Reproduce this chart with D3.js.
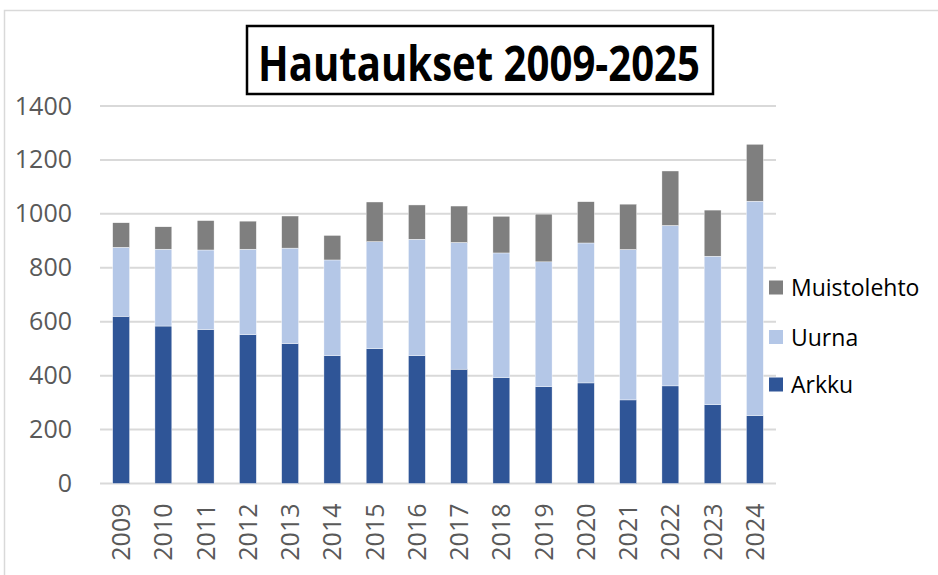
<!DOCTYPE html>
<html>
<head>
<meta charset="utf-8">
<script src="https://cdn.jsdelivr.net/npm/d3@7"></script>
<style>
  body { margin: 0; background: #fff; }
  svg text { font-family: "Open Sans", "Liberation Sans", sans-serif; }
</style>
</head>
<body>
<div id="canvas"></div>
<script>
// data
var years = ["2009","2010","2011","2012","2013","2014","2015","2016","2017","2018","2019","2020","2021","2022","2023","2024"];
var arkku = [620,584,571,552,519,474,500,474,424,393,359,373,310,362,292,252];
var uurna = [256,285,295,317,354,355,397,432,470,462,463,519,558,595,551,795];
var muistolehto = [91,83,109,104,119,91,147,127,135,136,177,153,168,202,171,211];
var seriesNames = ["Arkku","Uurna","Muistolehto"];
var yTicks = [0,200,400,600,800,1000,1200,1400];
var colors = ["#2F5597","#B4C7E7","#7F7F7F"];

var width = 938, height = 575;
var mleft = 100, mright = 776, ytop = 106, ybottom = 483.5;

var svg = d3.select("#canvas").append("svg")
    .attr("width", width)
    .attr("height", height);

// chart area border
svg.append("rect")
    .attr("x", 4.5).attr("y", 10.5)
    .attr("width", 1000).attr("height", 700)
    .attr("fill", "#fff")
    .attr("stroke", "#d9d9d9")
    .attr("stroke-width", 1.5);

var x = d3.scaleBand().domain(years).range([mleft, mright]).paddingInner(0.6).paddingOuter(0.3);
var y = d3.scaleLinear().domain([0, 1400]).range([ybottom, ytop]);

// gridlines
svg.append("g").selectAll("line").data(yTicks)
    .enter().append("line")
    .attr("x1", mleft).attr("x2", mright)
    .attr("y1", function(d) { return y(d); })
    .attr("y2", function(d) { return y(d); })
    .attr("stroke", "#d9d9d9")
    .attr("stroke-width", 2);

// y axis labels
var yAxis = d3.axisLeft(y).tickValues(yTicks).tickFormat(d3.format("d")).tickSize(0).tickPadding(0);
var gy = svg.append("g").attr("transform", "translate(72,0)").call(yAxis);
gy.select(".domain").remove();
gy.selectAll("text")
    .attr("font-family", "Open Sans, Liberation Sans, sans-serif")
    .attr("font-size", 25)
    .attr("fill", "#595959");

// stacked bars
var table = years.map(function(yr, i) {
    return { year: yr, Arkku: arkku[i], Uurna: uurna[i], Muistolehto: muistolehto[i] };
});
var stack = d3.stack().keys(seriesNames)(table);

svg.append("g").selectAll("g").data(stack)
    .enter().append("g")
    .attr("fill", function(d, i) { return colors[i]; })
    .selectAll("rect").data(function(d) { return d; })
    .enter().append("rect")
    .attr("x", function(d) { return x(d.data.year); })
    .attr("width", x.bandwidth())
    .attr("y", function(d) { return y(d[1]); })
    .attr("height", function(d) { return y(d[0]) - y(d[1]); })
    .attr("stroke", "#fff")
    .attr("stroke-width", 0.4);

// x axis labels
var xAxis = d3.axisBottom(x).tickSize(0).tickPadding(0);
var gx = svg.append("g").attr("transform", "translate(0," + ybottom + ")").call(xAxis);
gx.select(".domain").remove();
gx.selectAll("text")
    .attr("font-family", "Open Sans, Liberation Sans, sans-serif")
    .attr("font-size", 25)
    .attr("fill", "#595959")
    .attr("text-anchor", "end")
    .attr("dominant-baseline", "central")
    .attr("dy", null)
    .attr("y", 0)
    .attr("transform", "translate(-1,20) rotate(-90)");

// title
svg.append("rect")
    .attr("x", 247).attr("y", 26)
    .attr("width", 466).attr("height", 68)
    .attr("fill", "#fff")
    .attr("stroke", "#000")
    .attr("stroke-width", 2.5);
svg.append("text")
    .attr("x", 479).attr("y", 81)
    .attr("text-anchor", "middle")
    .attr("font-size", 49)
    .attr("font-weight", "bold")
    .attr("textLength", 442)
    .attr("lengthAdjust", "spacingAndGlyphs")
    .attr("fill", "#000")
    .text("Hautaukset 2009-2025");

// legend, top item is the last series
var legendY = [385, 337.5, 288];
var legend = svg.append("g").selectAll("g").data(seriesNames)
    .enter().append("g")
    .attr("transform", function(d, i) { return "translate(769," + legendY[i] + ")"; });
legend.append("rect")
    .attr("x", 0).attr("y", -7.5)
    .attr("width", 14).attr("height", 14)
    .attr("fill", function(d, i) { return colors[i]; });
legend.append("text")
    .attr("x", 22).attr("y", 8)
    .attr("font-size", 23)
    .attr("fill", "#000")
    .text(function(d) { return d; });
</script>
</body>
</html>
